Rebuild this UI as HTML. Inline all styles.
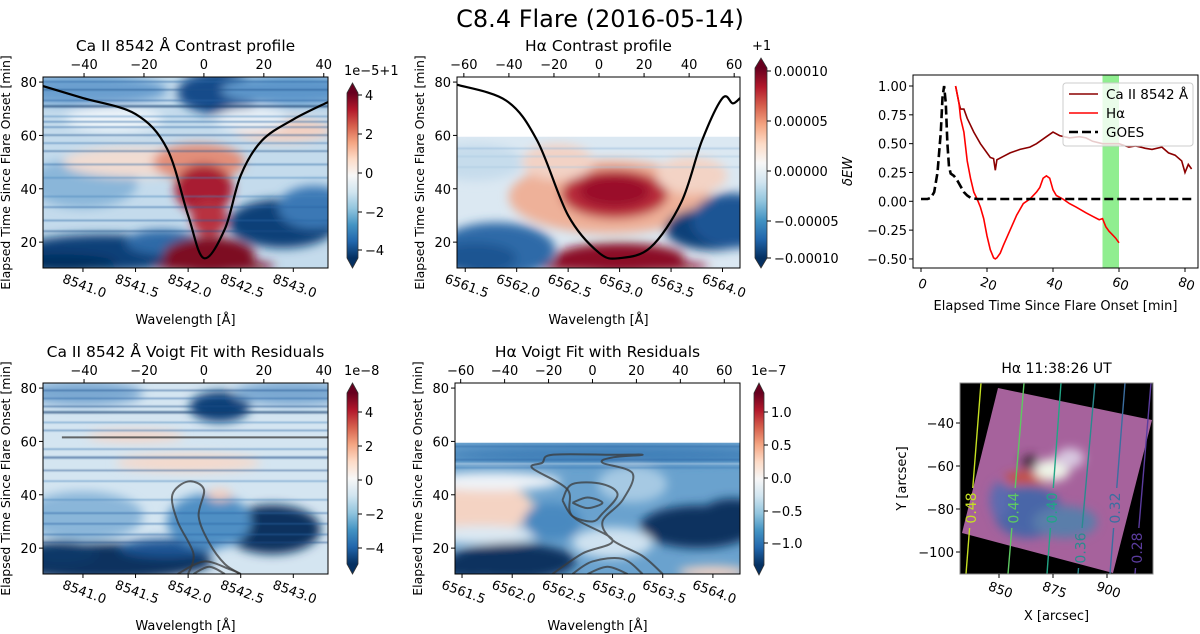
<!DOCTYPE html>
<html><head><meta charset="utf-8">
<style>
html,body{margin:0;padding:0;background:#fff;}
svg{display:block;font-family:"DejaVu Sans","Liberation Sans",sans-serif;}
</style></head>
<body>
<svg id="fig" width="1200" height="634" viewBox="0 0 1200 634" xmlns="http://www.w3.org/2000/svg">
<defs>
<filter id="blur" x="-20%" y="-20%" width="140%" height="140%"><feGaussianBlur stdDeviation="5"/></filter>
<filter id="blurS" x="-20%" y="-20%" width="140%" height="140%"><feGaussianBlur stdDeviation="0.8"/></filter>
<filter id="blurI" x="-20%" y="-20%" width="140%" height="140%"><feGaussianBlur stdDeviation="5"/></filter>
<linearGradient id="rdbu" x1="0" y1="0" x2="0" y2="1">
<stop offset="0" stop-color="#67001f"/><stop offset="0.1" stop-color="#b2182b"/><stop offset="0.2" stop-color="#d6604d"/><stop offset="0.3" stop-color="#f4a582"/><stop offset="0.4" stop-color="#fddbc7"/><stop offset="0.5" stop-color="#f7f7f7"/><stop offset="0.6" stop-color="#d1e5f0"/><stop offset="0.7" stop-color="#92c5de"/><stop offset="0.8" stop-color="#4393c3"/><stop offset="0.9" stop-color="#2166ac"/><stop offset="1" stop-color="#053061"/>
</linearGradient>
</defs>
<text x="600" y="27" font-size="24" text-anchor="middle" fill="#000">C8.4 Flare (2016-05-14)</text>
<g id="root"></g>
</svg>
<script>
// ---------- line chart data ----------
const goesTime = [0,2,3,4,5,6,6.5,7,7.5,8,8.5,9,10,11,12,13,14,15,17,20,30,40,50,60,70,82];
const goesVal  = [0.02,0.02,0.03,0.08,0.25,0.6,0.9,1.0,0.85,0.5,0.3,0.24,0.22,0.18,0.13,0.08,0.05,0.03,0.02,0.02,0.02,0.02,0.02,0.02,0.02,0.02];
const caTime = [10.5,11.5,12,13,14,15,16,18,20,21,22,22.5,23,25,27,30,33,35,38,40,42,45,48,50,52,55,58,60,63,65,68,70,73,75,77,79,80,81,82];
const caVal  = [1.0,0.85,0.8,0.8,0.72,0.66,0.6,0.5,0.42,0.38,0.37,0.27,0.36,0.39,0.42,0.45,0.47,0.5,0.56,0.6,0.57,0.55,0.56,0.55,0.52,0.5,0.5,0.5,0.47,0.48,0.46,0.45,0.47,0.42,0.4,0.35,0.25,0.32,0.28];
const haTime = [10.5,11.5,12,13,14,15,16,17,18,19,20,21,22,22.5,23,24,25,27,29,31,33,35,36,37,38,39,40,41,43,45,47,50,52,54,55,56,57,58,59,60];
const haVal  = [1.0,0.85,0.72,0.6,0.35,0.2,0.08,0.02,-0.05,-0.15,-0.3,-0.42,-0.49,-0.5,-0.49,-0.45,-0.38,-0.25,-0.12,-0.02,0.02,0.08,0.12,0.2,0.22,0.2,0.1,0.05,0.02,-0.02,-0.05,-0.1,-0.13,-0.16,-0.15,-0.22,-0.26,-0.29,-0.32,-0.36];
const lcXTicks = [0,20,40,60,80];
const lcYTicks = [1.0,0.75,0.5,0.25,0,-0.25,-0.5];
const bandStart = 55, bandEnd = 60;

// ---------- heatmap profile data ----------
const caProfWave = [8540.62,8541.0,8541.5,8541.8,8542.0,8542.15,8542.35,8542.5,8542.7,8543.0,8543.33];
const caProfTime = [78.5,74,68,55,30,14,25,45,58,66,72.5];
const haProfWave = [6561.42,6561.9,6562.2,6562.5,6562.8,6563.0,6563.3,6563.6,6563.8,6564.0,6564.1,6564.17];
const haProfTime = [79,73,58,30,16,14,18,35,58,74,72,74];

const NS = 'http://www.w3.org/2000/svg';
const root = document.getElementById('root');
function el(tag, attrs, parent, txt){
  const e = document.createElementNS(NS, tag);
  for (const k in attrs) e.setAttribute(k, attrs[k]);
  if (tag === 'text' && !attrs.fill) e.setAttribute('fill', '#000');
  if (txt !== undefined) e.textContent = txt;
  (parent || root).appendChild(e);
  return e;
}
function smoothPath(pts){
  let d = 'M' + pts[0][0].toFixed(1) + ',' + pts[0][1].toFixed(1);
  for (let i=0;i<pts.length-1;i++){
    const p0=pts[Math.max(0,i-1)], p1=pts[i], p2=pts[i+1], p3=pts[Math.min(pts.length-1,i+2)];
    const c1=[p1[0]+(p2[0]-p0[0])/6, p1[1]+(p2[1]-p0[1])/6];
    const c2=[p2[0]-(p3[0]-p1[0])/6, p2[1]-(p3[1]-p1[1])/6];
    d += ' C'+c1.join(',')+' '+c2.join(',')+' '+p2.join(',');
  }
  return d;
}

function heatPanel(cfg){
  const g = el('g', {});
  
  
  const {L,R,T,B,w0,w1,t0,t1} = cfg;
  const X = w => L + (w - w0) / (w1 - w0) * (R - L);
  const Y = t => B - (t - t0) / (t1 - t0) * (B - T);
  const cid = 'clip-' + cfg.name;
  const cp = el('clipPath', {id: cid}, g);
  el('rect', {x:L, y:T, width:R-L, height:B-T}, cp);
  const inner = el('g', {'clip-path':'url(#'+cid+')'}, g);
  el('rect', {x:L, y:T, width:R-L, height:B-T, fill:'#ffffff'}, inner);
  const dataTop = cfg.dataTop !== undefined ? Y(cfg.dataTop) : T;
  const hc = 'hclip-' + cfg.name;
  const cp2 = el('clipPath', {id: hc}, g);
  el('rect', {x:L, y:dataTop, width:R-L, height:B-dataTop}, cp2);
  const hm = el('g', {'clip-path':'url(#'+hc+')'}, inner);
  el('rect', {x:L-20, y:dataTop-20, width:R-L+40, height:B-dataTop+40, fill:cfg.bg}, hm);
  const bl = el('g', {filter:'url(#blur)'}, hm);
  cfg.blobs.forEach(b => {
    const e = el('ellipse', {cx:X(b[0]), cy:Y(b[1]), rx:1.15*Math.abs(X(b[0]+b[2])-X(b[0])), ry:1.15*Math.abs(Y(b[1]+b[3])-Y(b[1])), fill:b[4]}, bl);
    
    
  });
  const st = el('g', {filter:'url(#blurS)'}, hm);
  cfg.stripes.forEach(s => {
    const r = el('rect', {x:L, y:Y(s[0])-1, width:R-L, height:s[2]||1.4, fill:s[1], opacity:0.6}, st);
    
    
  });
  (cfg.contours||[]).forEach(c => {
    const p = el('path', {d: smoothPath(c.map(q=>[X(q[0]),Y(q[1])])), fill:'none', stroke:'#3a3a3a', 'stroke-width':2, opacity:0.75}, inner);
    
    
  });
  if (cfg.prof){
    const pts = cfg.prof[0].map((w,i)=>[X(w), Y(cfg.prof[1][i])]);
    const p = el('path', {d: smoothPath(pts), fill:'none', stroke:'#000', 'stroke-width':2.2}, inner);
    
    
  }
  el('rect', {x:L, y:T, width:R-L, height:B-T, fill:'none', stroke:'#000', 'stroke-width':1}, g);
  const tt = el('text', {x:(L+R)/2, y:T-26, 'font-size':15.5, 'text-anchor':'middle'}, g, cfg.title);
  
  
  [20,40,60,80].forEach(t=>{
    el('line', {x1:L-4, x2:L, y1:Y(t), y2:Y(t), stroke:'#000'}, g);
    const tx = el('text', {x:L-6, y:Y(t)+5, 'font-size':13, 'text-anchor':'end'}, g, t);
    
    
  });
  const yl = el('text', {x:0, y:0, 'font-size':12.5, 'text-anchor':'middle', transform:`translate(${L-33},${(T+B)/2}) rotate(-90)`}, g, 'Elapsed Time Since Flare Onset [min]');
  
  
  cfg.wTicks.forEach(w=>{
    const x = X(w);
    el('line', {x1:x, x2:x, y1:B, y2:B+4, stroke:'#000'}, g);
    const tx = el('text', {x:0, y:0, 'font-size':13, 'text-anchor':'middle', transform:`translate(${x},${B+22}) rotate(20)`}, g, w.toFixed(1));
    
    
  });
  const xl = el('text', {x:(L+R)/2, y:B+56, 'font-size':13, 'text-anchor':'middle'}, g, 'Wavelength [Å]');
  
  
  cfg.vTicks.forEach(v=>{
    const x = X(cfg.wc + v*cfg.wc/299792.458);
    el('line', {x1:x, x2:x, y1:T-4, y2:T, stroke:'#000'}, g);
    const tx = el('text', {x:x, y:T-8, 'font-size':13, 'text-anchor':'middle'}, g, v<0?'−'+(-v):String(v));
    
    
  });
  const cb = el('g', {}, g);
  
  
  const {cx, cw, ct, cbm} = cfg.cbar;
  const tri = 10;
  el('rect', {x:cx, y:ct+tri, width:cw, height:cbm-ct-2*tri, fill:'url(#rdbu)'}, cb);
  el('polygon', {points:`${cx},${ct+tri} ${cx+cw},${ct+tri} ${cx+cw/2},${ct}`, fill:'#67001f'}, cb);
  el('polygon', {points:`${cx},${cbm-tri} ${cx+cw},${cbm-tri} ${cx+cw/2},${cbm}`, fill:'#053061'}, cb);
  el('polygon', {points:`${cx},${ct+tri} ${cx+cw/2},${ct} ${cx+cw},${ct+tri} ${cx+cw},${cbm-tri} ${cx+cw/2},${cbm} ${cx},${cbm-tri}`, fill:'none', stroke:'#333', 'stroke-width':0.8}, cb);
  cfg.cbar.ticks.forEach(tk=>{
    el('line', {x1:cx+cw, x2:cx+cw+4, y1:tk[0], y2:tk[0], stroke:'#000'}, cb);
    const tx = el('text', {x:cx+cw+7, y:tk[0]+5, 'font-size':13}, cb, tk[1]);
    
    
  });
  const off = el('text', {x:cx-3, y:ct-8, 'font-size':13}, cb, cfg.cbar.offset);
  
  
  return {X,Y};
}

const caW = [8541.0,8541.5,8542.0,8542.5,8543.0];
const haW = [6561.5,6562.0,6562.5,6563.0,6563.5,6564.0];
const caV = [-40,-20,0,20,40];
const haV = [-60,-40,-20,0,20,40,60];

heatPanel({name:'ca-contrast-panel', title:'Ca II 8542 Å Contrast profile', L:43,R:328,T:77,B:268, w0:8540.62,w1:8543.33,t0:10.3,t1:81.9,
  wc:8542.15, wTicks:caW, vTicks:caV, bg:'#c4dbec',
  blobs:[[8541.2,16,0.75,6,'#0f3f78'],[8540.8,12,0.45,3,'#062e5e'],[8541.75,20,0.3,4,'#2e6aa8'],[8542.9,27,0.45,8,'#0f3f78'],[8543.2,33,0.3,7,'#3a78b5'],
   [8541.0,42,0.45,8,'#8ab6d9'],[8541.5,50,0.6,5,'#f1dcd2'],[8542.9,62,0.4,4,'#f2d0c2'],[8542.1,50,0.38,6,'#e28e79'],[8542.15,40,0.24,8,'#a81a33'],[8542.2,29,0.15,6,'#b8303f'],
   [8542.2,15,0.38,6,'#7d0822'],[8542.25,11,0.5,2,'#7d0822'],[8542.3,76,0.35,7,'#164c8a'],[8541.0,77,0.7,5,'#6a9fcf'],[8543.0,77,0.6,5,'#5d96ca'],[8541.3,66,0.4,4,'#eef4f9'],[8542.6,66,0.3,4,'#e8f0f7']],
  stripes:[[24,'#1d4f8a'],[28,'#2a64a3'],[33,'#2a64a3'],[37,'#4a86bd'],[44,'#4a86bd'],[49,'#2a64a3'],[54,'#1d4f8a'],[57,'#3d77b2'],[60,'#1d4f8a'],[63,'#2a64a3'],[65,'#2a64a3'],[67,'#4a86bd'],[71,'#0d3a6e',2.5],[73,'#2a64a3'],[77,'#1d4f8a'],[80,'#2a64a3']],
  prof:[caProfWave, caProfTime],
  cbar:{cx:347,cw:11,ct:83,cbm:268,offset:'1e−5+1',ticks:[[95,'4'],[134,'2'],[173,'0'],[212,'−2'],[250,'−4']]}
});

heatPanel({name:'ha-contrast-panel', title:'Hα Contrast profile', L:457,R:740,T:77,B:268, w0:6561.42,w1:6564.17,t0:10.3,t1:81.9, dataTop:59.5,
  wc:6562.8, wTicks:haW, vTicks:haV, bg:'#dbe8f2',
  blobs:[[6562.9,37,0.85,12,'#eeb199'],[6562.95,38,0.45,8,'#b82a3b'],[6562.95,39,0.3,5,'#9a1029'],[6563.0,14,0.55,5,'#8b0c25'],[6563.0,11,0.75,2,'#8b0c25'],
   [6561.8,17,0.5,9,'#2f6aa8'],[6561.6,14,0.35,5,'#1f5592'],[6561.6,50,0.4,6,'#c6dcec'],[6563.9,25,0.4,7,'#103f78'],[6564.1,28,0.35,9,'#1e5594'],[6563.7,45,0.3,6,'#f3d3c5'],[6562.4,50,0.3,6,'#f2d2c5']],
  stripes:[[55,'#8fb6d8'],[52,'#a9c8e1'],[48,'#a9c8e1']],
  prof:[haProfWave, haProfTime],
  cbar:{cx:755,cw:12,ct:58,cbm:268,offset:'+1',ticks:[[71,'0.00010'],[121,'0.00005'],[171,'0.00000'],[221,'−0.00005'],[258,'−0.00010']]}
});

heatPanel({name:'ca-voigt-residual-panel', title:'Ca II 8542 Å Voigt Fit with Residuals', L:43,R:328,T:383,B:574, w0:8540.62,w1:8543.33,t0:10.3,t1:81.9,
  wc:8542.15, wTicks:caW, vTicks:caV, bg:'#d4e5f1',
  blobs:[[8541.2,15,0.9,6,'#07305f'],[8540.8,18,0.3,4,'#0b3767'],[8541.8,20,0.4,3,'#1e5594'],[8542.8,27,0.4,8,'#07305f'],[8542.2,30,0.35,9,'#4f8fc4'],[8541.0,32,0.5,8,'#8ab6d9'],
   [8542.0,52,0.6,3,'#f4d9cc'],[8542.3,73,0.25,5,'#0f3f78'],[8542.3,40,0.1,2,'#f4cfc0'],[8541.5,62,0.4,2,'#f4d5c8'],[8543.0,78,0.5,4,'#7aa8d2'],[8541.0,78,0.5,4,'#7aa8d2']],
  stripes:[[22,'#1d4f8a'],[25,'#2a64a3'],[29,'#2a64a3'],[33,'#2a64a3'],[38,'#4a86bd'],[45,'#4a86bd'],[49,'#1d4f8a'],[54,'#1d4f8a',2.2],[57,'#3d77b2'],[64,'#2a64a3'],[67,'#4a86bd'],[71,'#0d3a6e',2.5],[73,'#1d4f8a'],[76,'#2a64a3'],[79,'#1d4f8a']],
  contours:[[[8542.0,10.3],[8542.05,18],[8541.9,30],[8541.85,40],[8542.0,45],[8542.15,42],[8542.1,32],[8542.2,22],[8542.35,14],[8542.5,10.3]],
            [[8540.8,61.5],[8543.33,61.5]],
            [[8541.9,10.3],[8542.15,15],[8542.4,12],[8542.5,10.3]],
            [[8542.05,10.3],[8542.2,13],[8542.35,10.3]]],
  cbar:{cx:347,cw:11,ct:383,cbm:574,offset:'1e−8',ticks:[[412,'4'],[446,'2'],[480,'0'],[514,'−2'],[548,'−4']]}
});

heatPanel({name:'ha-voigt-residual-panel', title:'Hα Voigt Fit with Residuals', L:455,R:740,T:383,B:574, w0:6561.43,w1:6564.27,t0:10.3,t1:81.9, dataTop:59.5,
  wc:6562.8, wTicks:haW, vTicks:haV, bg:'#6aa2ce',
  blobs:[[6561.7,35,0.45,8,'#f4d3c3'],[6561.8,45,0.6,3,'#eef3f8'],[6561.7,25,0.5,3,'#dce9f3'],[6562.0,15,0.55,6,'#07305f'],[6561.6,13,0.3,4,'#07305f'],
   [6563.85,28,0.5,7,'#07305f'],[6564.2,34,0.25,4,'#07305f'],[6563.0,22,0.35,5,'#cfe2f0'],[6563.2,44,0.3,6,'#a6c9e3'],[6563.0,55,1.5,3,'#3f7fb8'],[6564.0,11,0.3,2,'#f4d3c3'],[6562.4,30,0.25,6,'#4a89c0']],
  stripes:[[58,'#2a64a3'],[53,'#2a64a3'],[50,'#3f7fb8'],[51.5,'#cfe2f0']],
  contours:[[[6562.4,10.3],[6562.7,18],[6563.0,23],[6562.6,32],[6562.55,42],[6562.2,50],[6562.3,52],[6562.4,55],[6563.0,55],[6563.3,55],[6563.0,54],[6562.9,52],[6563.2,48],[6563.1,38],[6562.9,30],[6563.0,23],[6563.3,17],[6563.5,10.3]],
            [[6562.5,38],[6562.6,44],[6562.9,44],[6563.05,40],[6562.9,33],[6562.8,30],[6562.6,32],[6562.5,38]],
            [[6562.6,37],[6562.75,39],[6562.9,37],[6562.75,35],[6562.6,37]],
            [[6562.6,10.3],[6562.8,15],[6563.1,16],[6563.3,10.3]],
            [[6562.75,10.3],[6562.95,13],[6563.15,10.3]]],
  cbar:{cx:754,cw:10,ct:383,cbm:575,offset:'1e−7',ticks:[[412,'1.0'],[445,'0.5'],[478,'0.0'],[511,'−0.5'],[543,'−1.0']]}
});

// ---------- line chart ----------
(function(){
  const L=913,R=1198,T=75,B=268;
  const X = t => 921 + t*3.3;
  const Y = v => 201.3 - v*115.3;
  const g = el('g', {});
  
  
  const band = el('rect', {x:X(bandStart), y:T, width:X(bandEnd)-X(bandStart), height:B-T, fill:'#90ee90'}, g);
  
  
  function line(ts, vs, color, name, dash){
    const p = el('polyline', {points: ts.map((t,i)=>X(t).toFixed(1)+','+Y(vs[i]).toFixed(1)).join(' '), fill:'none', stroke:color, 'stroke-width': dash?2.6:1.6}, g);
    if (dash) p.setAttribute('stroke-dasharray','9,4');
    
    
  }
  line(caTime, caVal, '#8b0000', 'series-ca-ii');
  line(haTime, haVal, '#ff0000', 'series-h-alpha');
  line(goesTime, goesVal, '#000000', 'series-goes', true);
  el('rect', {x:L, y:T, width:R-L, height:B-T, fill:'none', stroke:'#000'}, g);
  lcYTicks.forEach(v=>{
    el('line', {x1:L-4,x2:L,y1:Y(v),y2:Y(v),stroke:'#000'}, g);
    const s = v<0 ? '−'+(-v).toFixed(2) : v.toFixed(2);
    const tx = el('text', {x:L-6, y:Y(v)+5, 'font-size':13, 'text-anchor':'end'}, g, s);
    
    
  });
  lcXTicks.forEach(t=>{
    el('line', {x1:X(t),x2:X(t),y1:B,y2:B+4,stroke:'#000'}, g);
    const tx = el('text', {x:0, y:0, 'font-size':13, 'text-anchor':'middle', transform:`translate(${X(t)},${B+20}) rotate(20)`}, g, t);
    
    
  });
  const xl = el('text', {x:(L+R)/2, y:310, 'font-size':13, 'text-anchor':'middle'}, g, 'Elapsed Time Since Flare Onset [min]');
  
  
  const yl = el('text', {x:0, y:0, 'font-size':13, 'font-style':'italic', 'text-anchor':'middle', transform:`translate(852,${(T+B)/2}) rotate(-90)`}, g, 'δEW');
  
  
  const lg = el('g', {}, g);
  
  
  el('rect', {x:1063, y:83, width:130, height:63, rx:3, fill:'#fff', 'fill-opacity':0.8, stroke:'#ccc'}, lg);
  [['Ca II 8542 Å','#8b0000',null,98],['Hα','#ff0000',null,117],['GOES','#000',true,136]].forEach(e=>{
    const ln = el('line', {x1:1069, x2:1098, y1:e[3]-4, y2:e[3]-4, stroke:e[1], 'stroke-width':e[2]?2.6:1.6}, lg);
    if (e[2]) ln.setAttribute('stroke-dasharray','9,4');
    const tx = el('text', {x:1106, y:e[3]+1, 'font-size':13.5}, lg, e[0]);
    
    
  });
})();

// ---------- image panel ----------
(function(){
  const L=960,R=1153,T=383,B=574;
  const X = x => 999 + (x-850)*(108/50);
  const Y = y => 423 + (-40 - y)*(129/60);
  const g = el('g', {});
  
  
  const cp = el('clipPath', {id:'imgclip'}, g);
  el('rect', {x:L,y:T,width:R-L,height:B-T}, cp);
  const inner = el('g', {'clip-path':'url(#imgclip)'}, g);
  el('rect', {x:L,y:T,width:R-L,height:B-T,fill:'#000'}, inner);
  const sqc = el('clipPath', {id:'sqclip'}, g);
  el('polygon', {points:'998,388 1152,420 1113,573 962,533'}, sqc);
  const sq = el('g', {'clip-path':'url(#sqclip)'}, inner);
  el('rect', {x:950,y:380,width:210,height:200,fill:'#a6629c'}, sq);
  const bb = el('g', {filter:'url(#blurI)'}, sq);
  el('ellipse', {cx:1028,cy:512,rx:34,ry:26,fill:'#4a66a8'}, bb);
  el('ellipse', {cx:1065,cy:522,rx:32,ry:16,fill:'#5a7eaa'}, bb);
  el('ellipse', {cx:1000,cy:500,rx:10,ry:18,fill:'#5a6cb0'}, bb);
  el('ellipse', {cx:1030,cy:478,rx:26,ry:6,fill:'#c8503a'}, bb);
  el('ellipse', {cx:1052,cy:470,rx:18,ry:11,fill:'#eef5e8'}, bb);
  el('ellipse', {cx:1070,cy:458,rx:14,ry:10,fill:'#d8c8e0'}, bb);
  el('ellipse', {cx:1030,cy:462,rx:8,ry:7,fill:'#402838'}, bb);
  const isoCol = ['#c5e021','#5ec962','#21a585','#2a8a8e','#3b6ea0','#5b3c9e'];
  const isoLab = ['0.48','0.44','0.40','0.36','0.32','0.28'];
  const isoTop = [981,1024,1061,1095,1125,1151];
  const isoBot = [966,1008,1047,1078,1110,1135];
  isoCol.forEach((c,i)=>{
    const ly = i===3||i===5 ? 548 : 508;
    const lx = isoTop[i] + (isoBot[i]-isoTop[i])*(ly-T)/(B-T);
    const ln1 = el('line', {x1:isoTop[i],y1:T,x2:lx+ (isoBot[i]-isoTop[i])*(-20)/(B-T),y2:ly-20,stroke:c,'stroke-width':1.4}, inner);
    
    
    const ln2 = el('line', {x1:lx+(isoBot[i]-isoTop[i])*(20)/(B-T),y1:ly+20,x2:isoBot[i],y2:B,stroke:c,'stroke-width':1.4}, inner);
    
    
    const tx = el('text', {x:0,y:0,'font-size':14,'text-anchor':'middle',fill:c,transform:`translate(${lx+5},${ly}) rotate(-90)`}, inner, isoLab[i]);
    
    
  });
  el('rect', {x:L,y:T,width:R-L,height:B-T,fill:'none',stroke:'#888'}, g);
  const tt = el('text', {x:(L+R)/2, y:T-10, 'font-size':14, 'text-anchor':'middle'}, g, 'Hα    11:38:26 UT');
  
  
  [-40,-60,-80,-100].forEach(v=>{
    el('line', {x1:L-4,x2:L,y1:Y(v),y2:Y(v),stroke:'#000'}, g);
    const tx = el('text', {x:L-6,y:Y(v)+5,'font-size':13,'text-anchor':'end'}, g, '−'+(-v));
    
    
  });
  [850,875,900].forEach(v=>{
    el('line', {x1:X(v),x2:X(v),y1:B,y2:B+4,stroke:'#000'}, g);
    const tx = el('text', {x:0,y:0,'font-size':13,'text-anchor':'middle',transform:`translate(${X(v)},${B+20}) rotate(20)`}, g, v);
    
    
  });
  const xl = el('text', {x:(L+R)/2,y:620,'font-size':13,'text-anchor':'middle'}, g, 'X [arcsec]');
  
  
  const yl = el('text', {x:0,y:0,'font-size':13,'text-anchor':'middle',transform:`translate(906,${(T+B)/2}) rotate(-90)`}, g, 'Y [arcsec]');
  
  
})();
</script>
</body></html>
